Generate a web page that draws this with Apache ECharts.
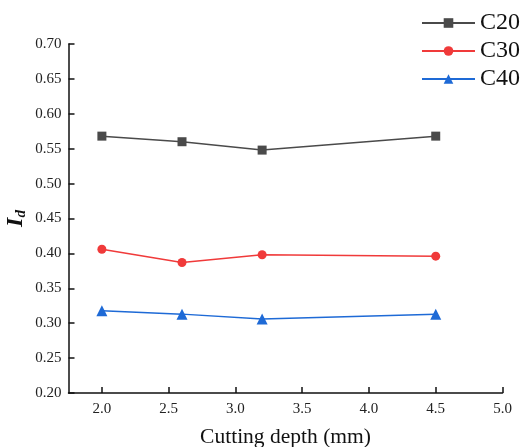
<!DOCTYPE html>
<html>
<head>
<meta charset="utf-8">
<script src="https://cdn.jsdelivr.net/npm/echarts@6/dist/echarts.min.js"></script>
<style>
  html, body { margin: 0; padding: 0; background: #fff; }
  #chart { width: 520px; height: 447px; }
</style>
</head>
<body>
<div id="chart"></div>
<script>
// cutting depth (mm)
const depths = [2.0, 2.6, 3.2, 4.5]
const c20 = [0.568, 0.560, 0.548, 0.568]
const c30 = [0.406, 0.387, 0.398, 0.396]
const c40 = [0.318, 0.313, 0.306, 0.313]
const xTicks = [2.0, 2.5, 3.0, 3.5, 4.0, 4.5, 5.0]

const font = 'Liberation Serif'
const pair = (ys) => depths.map((x, i) => [x, ys[i]])

const mkSeries = (name, ys, color, symbol) => ({
  name: name,
  type: 'line',
  data: pair(ys),
  symbol: symbol,
  symbolSize: symbol === 'triangle' ? 11 : 9,
  lineStyle: { color: color, width: 1.5 },
  itemStyle: { color: color }
})

const chart = echarts.init(document.getElementById('chart'))
chart.setOption({
  animation: false,
  textStyle: { fontFamily: font },
  grid: { left: 68.5, right: 17.5, top: 44, bottom: 54, outerBoundsMode: 'none', containLabel: false },
  legend: {
    orient: 'vertical',
    right: -5,
    top: 6,
    itemWidth: 53,
    itemHeight: 12,
    itemGap: 4,
    textStyle: { fontFamily: font, fontSize: 24, color: '#111' },
    data: ['C20', 'C30', 'C40']
  },
  xAxis: {
    type: 'value',
    min: 1.75,
    max: 5.0,
    name: 'Cutting depth (mm)',
    nameLocation: 'middle',
    nameGap: 33,
    nameTextStyle: { fontFamily: font, fontSize: 21.5, color: '#111' },
    axisLine: { onZero: false, lineStyle: { color: '#111', width: 1.5 } },
    axisTick: { inside: true, length: 6, customValues: xTicks, lineStyle: { color: '#111', width: 1.5 } },
    axisLabel: {
      customValues: xTicks,
      formatter: v => v.toFixed(1),
      fontFamily: font, fontSize: 15, color: '#222', margin: 9
    },
    splitLine: { show: false }
  },
  yAxis: {
    type: 'value',
    min: 0.2,
    max: 0.7,
    interval: 0.05,
    name: '{a|I}{b|d}',
    nameLocation: 'middle',
    nameRotate: 90,
    nameGap: 40,
    nameMoveOverlap: false,
    nameTextStyle: {
      rich: {
        a: { fontFamily: font, fontSize: 24, fontWeight: 'bold', fontStyle: 'italic', color: '#111' },
        b: { fontFamily: font, fontSize: 15, fontWeight: 'bold', fontStyle: 'italic', color: '#111', padding: [10, 0, 0, 0] }
      }
    },
    axisLine: { show: true, lineStyle: { color: '#111', width: 1.5 } },
    axisTick: { inside: true, length: 6, lineStyle: { color: '#111', width: 1.5 } },
    axisLabel: {
      formatter: v => v.toFixed(2),
      fontFamily: font, fontSize: 15, color: '#222', margin: 7
    },
    splitLine: { show: false }
  },
  series: [
    mkSeries('C20', c20, '#4a4a4a', 'rect'),
    mkSeries('C30', c30, '#f03a3a', 'circle'),
    mkSeries('C40', c40, '#1e6ad6', 'triangle')
  ]
})
</script>
</body>
</html>
